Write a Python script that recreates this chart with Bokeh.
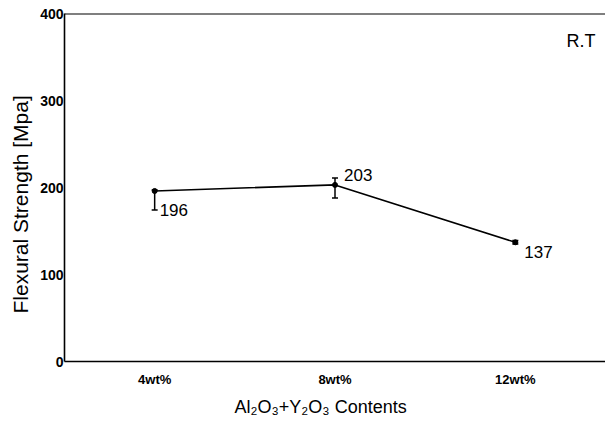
from bokeh.plotting import figure
from bokeh.models import ColumnDataSource, FactorRange, Range1d, FixedTicker, Whisker, TeeHead, Span, Label, Title
from bokeh.core.properties import value
from bokeh.embed import file_html
from bokeh.resources import INLINE

categories = ["4wt%", "8wt%", "12wt%"]
strength = [196, 203, 137]
err_lower = [174, 188, 135]
err_upper = [197, 211, 139]
value_labels = ["196", "203", "137"]
y_ticks = [0, 100, 200, 300, 400]

W, H = 605, 423
FL, FB = 63, 361  # frame left / bottom in page pixels

src = ColumnDataSource(dict(x=categories, y=strength, lower=err_lower, upper=err_upper))

p = figure(width=W, height=H, x_range=FactorRange(*categories, start=-0.01, end=2.99),
           y_range=Range1d(0, 400),
           output_backend="svg", toolbar_location=None,
           min_border_left=FL, min_border_right=0, min_border_top=13, min_border_bottom=H - FB)
p.outline_line_color = None
p.xgrid.visible = False
p.ygrid.visible = False
p.background_fill_color = "white"
p.border_fill_color = "white"

font = "Liberation Sans"

p.yaxis.ticker = FixedTicker(ticks=y_ticks)
p.yaxis.major_tick_out = 0
p.yaxis.major_tick_in = 0
p.yaxis.minor_tick_out = 0
p.yaxis.minor_tick_in = 0
p.yaxis.major_label_standoff = 1
p.yaxis.major_label_text_font = font
p.yaxis.major_label_text_font_size = "14px"
p.yaxis.major_label_text_font_style = "bold"
p.yaxis.major_label_text_color = "black"
p.yaxis.axis_line_width = 1.6
p.yaxis.axis_line_color = "black"

p.xaxis.major_tick_out = 0
p.xaxis.major_tick_in = 0
p.xaxis.major_label_standoff = 10
p.xaxis.major_label_text_font = font
p.xaxis.major_label_text_font_size = "13px"
p.xaxis.major_label_text_font_style = "bold"
p.xaxis.major_label_text_color = "black"
p.xaxis.axis_line_width = 1.6
p.xaxis.axis_line_color = "black"

p.add_layout(Span(location=400, dimension="width", line_color="black", line_width=2))

p.line("x", "y", source=src, line_color="black", line_width=1.6)
p.scatter("x", "y", source=src, size=5, color="black")
p.add_layout(Whisker(source=src, base="x", lower="lower", upper="upper", dimension="height",
                     line_color="black", line_width=1.5,
                     upper_head=TeeHead(size=6, line_color="black", line_width=1.5),
                     lower_head=TeeHead(size=6, line_color="black", line_width=1.5)))

offsets = [(5, 19), (9, -10), (9, 10)]
for i, (dx, dy) in enumerate(offsets):
    s = ColumnDataSource(dict(x=[categories[i]], y=[strength[i]], t=[value_labels[i]]))
    p.text("x", "y", text="t", source=s, x_offset=dx, y_offset=dy,
           text_font=value(font), text_font_size="17px",
           text_baseline="middle", text_align="left", text_color="black")

# screen units are measured from the frame's bottom-left corner
p.add_layout(Label(x=565 - FL, y=FB - 40, x_units="screen", y_units="screen", text="R.T",
                   text_font=font, text_font_size="18px", text_baseline="middle",
                   text_align="left", text_color="black"))

p.add_layout(Title(text="Flexural Strength [Mpa]", align="left", offset=48, standoff=12,
                   text_font=font, text_font_size="21px", text_font_style="normal",
                   text_color="black"), "left")

p.add_layout(Title(text="Al\u2082O\u2083+Y\u2082O\u2083  Contents", align="left", offset=170,
                   standoff=10, text_font=font, text_font_size="18px",
                   text_font_style="normal", text_color="black"), "below")

open("out.html", "w").write(file_html(p, INLINE))
